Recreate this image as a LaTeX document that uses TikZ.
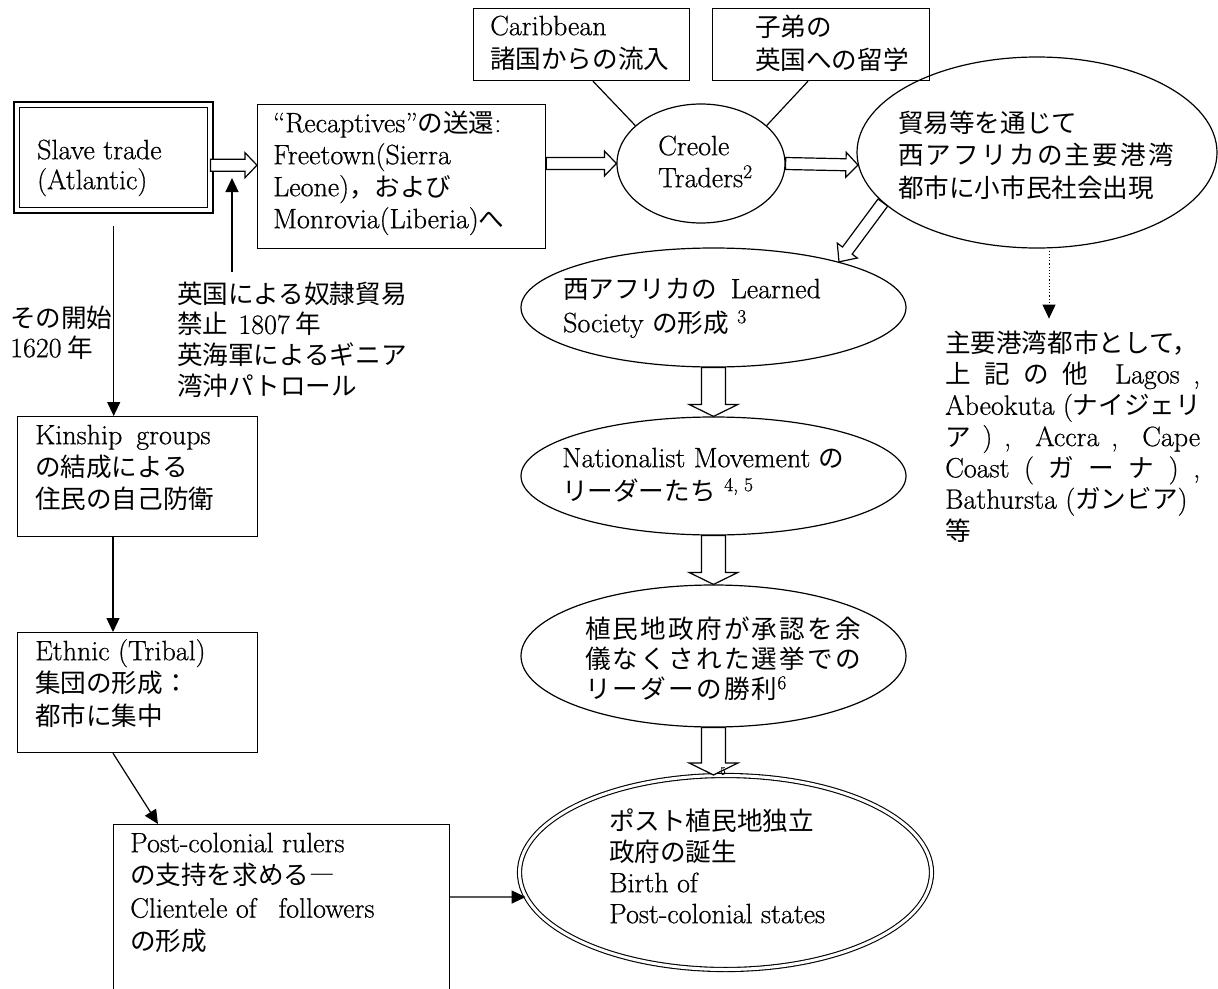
\documentclass[tikz,border=0pt]{standalone}
\usepackage{fontspec}
\setmainfont{Latin Modern Roman}[FakeBold=0.6]
\newfontfamily\jp{Noto Sans CJK JP}[Scale=0.914]
\newfontfamily\jpw{Noto Sans CJK JP}[Scale=0.914, LetterSpace=8.5]
\usetikzlibrary{calc,shapes.geometric,arrows.meta}
\newcommand\Tstr{\rule{0pt}{24pt}}
\newcommand\hollowarrow[5]{%
  \path ($(#2)!#5!(#1)$) coordinate (hah);
  \draw[hollow] ($(#1)!#3!90:(#2)$) -- ($(hah)!#3!-90:(#1)$) -- ($(hah)!#4!-90:(#1)$) -- (#2)
    -- ($(hah)!#4!90:(#1)$) -- ($(hah)!#3!90:(#1)$) -- ($(#1)!#3!-90:(#2)$) -- cycle;}
\tikzset{
  box/.style={draw, line width=1.2pt, rectangle, inner sep=0pt, anchor=north west},
  ell/.style={draw, ellipse, inner sep=0pt, line width=1.2pt},
  txt/.style={anchor=north west, inner sep=0pt, align=left},
  hollow/.style={draw, fill=white, line width=1.2pt, line join=miter},
  arr/.style={line width=1.2pt, -{Triangle[length=14pt,width=13pt]}},
  link/.style={line width=1.2pt},
}
\begin{document}
\begin{tikzpicture}[x=1pt,y=-1pt]
\useasboundingbox (0,0) rectangle (1218,988);
% ---------- boxes
\node[box, line width=2.4pt, minimum width=199pt, minimum height=111pt] (slave) at (13,101) {};
\node[draw, line width=1pt, minimum width=188pt, minimum height=100pt, inner sep=0pt] (slavein) at (slave.center) {};
\node[box, minimum width=288pt, minimum height=144pt] (rec) at (257,104) {};
\node[box, minimum width=216pt, minimum height=72pt] (carib) at (473,8) {};
\node[box, minimum width=217pt, minimum height=72pt] (shitei) at (712,8) {};
\node[box, minimum width=240pt, minimum height=120pt] (kin) at (17,416) {};
\node[box, minimum width=240pt, minimum height=120pt] (eth) at (17,632) {};
\node[box, minimum width=336pt, minimum height=168pt] (post) at (113,824) {};
% ---------- ellipses
\node[ell, minimum width=168pt, minimum height=119pt] (creole) at (701,163.5) {};
\node[ell, minimum width=360pt, minimum height=191pt] (big) at (1037,152.5) {};
\node[ell, minimum width=385pt, minimum height=119pt] (learned) at (713.5,307.5) {};
\node[ell, minimum width=385pt, minimum height=118pt] (nat) at (713.5,476) {};
\node[ell, minimum width=385pt, minimum height=142pt] (colony) at (713.5,656) {};
\node[ell, double, double distance=3pt, line width=1.1pt, minimum width=412pt, minimum height=194pt] (dbl) at (725.5,872.5) {};
% ---------- hollow block arrows
\coordinate (a1s) at ($(slave.east)+(-4,7.5)$);
\coordinate (a1e) at (a1s -| rec.west);
\hollowarrow{a1s}{a1e}{6pt}{12.5pt}{12pt}
\coordinate (a2s) at (rec.east |- creole.west);
\hollowarrow{a2s}{creole.west}{6pt}{12.5pt}{12pt}
\hollowarrow{creole.east}{big.184}{6pt}{12.5pt}{12pt}
\hollowarrow{big.198}{learned.20}{6pt}{12.5pt}{14pt}
\hollowarrow{learned.south}{nat.north}{12pt}{24.5pt}{12pt}
\hollowarrow{nat.south}{colony.north}{12pt}{24.5pt}{12pt}
\coordinate (a7e) at (colony.south |- dbl.north);
\hollowarrow{colony.south}{a7e}{12pt}{24.5pt}{12pt}
% ---------- thin connectors
\coordinate (upS) at (232,272);
\coordinate (upE) at (232,178);
\draw[arr] (upS) -- (upE);
\coordinate (skS) at ($(slave.south)+(0,12)$);
\draw[arr] (skS) -- (skS |- kin.north);
\coordinate (keS) at ($(kin.south west)+(96,0)$);
\draw[arr] (keS) -- (keS |- eth.north);
\coordinate (epS) at ($(eth.south west)+(96,0)$);
\coordinate (epE) at ($(post.north west)+(45,0)$);
\draw[arr] (epS) -- (epE);
\coordinate (pdS) at ($(post.north east)+(0,73)$);
\draw[arr] (pdS) -- (dbl.187);
\draw[link] ($(carib.south west)+(120,0)$) -- (creole.150);
\draw[link] ($(shitei.south west)+(96,0)$) -- (creole.30);
\coordinate (dS) at ($(big.south)+(12,2)$);
\coordinate (dE) at ($(big.south)+(12,70)$);
\draw[arr, dotted, line width=1pt] (dS) -- (dE);
% ---------- texts
\node[txt, font=\fontsize{28}{30}\selectfont] (slaveT) at (37,135) {\Tstr Slave trade\\(Atlantic)};
\node[txt, font=\fontsize{28}{32}\selectfont] (recT) at (273,108) {\Tstr “Recaptives”{\jp の送還}:\\Freetown(Sierra\\Leone){\jp ，および}\\Monrovia(Liberia){\jp へ}};
\node[txt, font=\fontsize{28}{33}\selectfont] (caribT) at (490,11) {\Tstr Caribbean\\{\jp 諸国からの流入}};
\node[txt, font=\fontsize{28}{33}\selectfont\jp] (shiteiT) at (755,12) {\Tstr 子弟の\\英国への留学};
\node[txt, font=\fontsize{28}{32}\selectfont] (creoleT) at (658,131) {\Tstr Creole\\Traders\textsuperscript{2}};
\node[txt, font=\fontsize{28}{32.5}\selectfont\jp] (bigT) at (898,108) {\Tstr 貿易等を通じて\\{\jpw 西アフリカの主要港湾}\\都市に小市民社会出現};
\node[txt, font=\fontsize{28}{34}\selectfont] (learnedT) at (563,274) {\Tstr{\jp 西アフリカの}\hspace{14pt}Learned\\Society {\jp の形成} \textsuperscript{3}};
\node[txt, font=\fontsize{28}{33}\selectfont] (natT) at (562,443) {\Tstr Nationalist Movement {\jp の}\\{\jp リーダーたち} \textsuperscript{4, 5}};
\node[txt, font=\fontsize{28}{30}\selectfont\jpw] (colonyT) at (585,614) {\Tstr 植民地政府が承認を余\\儀なくされた選挙での\\リーダーの勝利{\normalfont\textsuperscript{6}}};
\node[txt, font=\fontsize{28}{31.3}\selectfont] (rightT) at (945,328) {\Tstr{\jp 主要港湾都市として，}\\
  \makebox[255pt][s]{{\jp 上} {\jp 記} {\jp の} {\jp 他} \ Lagos ,}\\
  Abeokuta ({\jp ナイジェリ}\\
  \makebox[255pt][s]{{\jp ア} ) , \ Accra , \ Cape}\\
  \makebox[255pt][s]{Coast ( {\jp ガ} {\jp ー} {\jp ナ} ) ,}\\
  Bathursta ({\jp ガンビア})\\
  {\jp 等}};
\node[txt, font=\fontsize{28}{30.7}\selectfont\jp] (engT) at (177,279) {\Tstr 英国による奴隷貿易\\禁止\hspace{10pt}{\normalfont 1807} 年\\英海軍によるギニア\\湾沖パトロール};
\node[txt, font=\fontsize{28}{30}\selectfont\jp] (startT) at (10,303) {\Tstr その開始\\{\normalfont 1620} 年};
\node[txt, font=\fontsize{28}{32}\selectfont] (kinT) at (35,420) {\Tstr Kinship\hspace{14pt}groups\\{\jp の結成による}\\{\jp 住民の自己防衛}};
\node[txt, font=\fontsize{28}{32.5}\selectfont] (ethT) at (35,636) {\Tstr Ethnic (Tribal)\\{\jp 集団の形成：}\\{\jp 都市に集中}};
\node[txt, font=\fontsize{28}{32.7}\selectfont] (postT) at (130,828) {\Tstr Post-colonial rulers\\{\jp の支持を求める―}\\Clientele of\hspace{22pt}followers\\{\jp の形成}};
\node[txt, font=\fontsize{28}{31}\selectfont] (dblT) at (609,806) {\Tstr{\jp ポスト植民地独立}\\{\jp 政府の誕生}\\Birth of\\Post-colonial states};
\node[inner sep=0pt, font=\fontsize{11}{11}\selectfont] (tinyT) at (723,771) {5};
\end{tikzpicture}
\end{document}
